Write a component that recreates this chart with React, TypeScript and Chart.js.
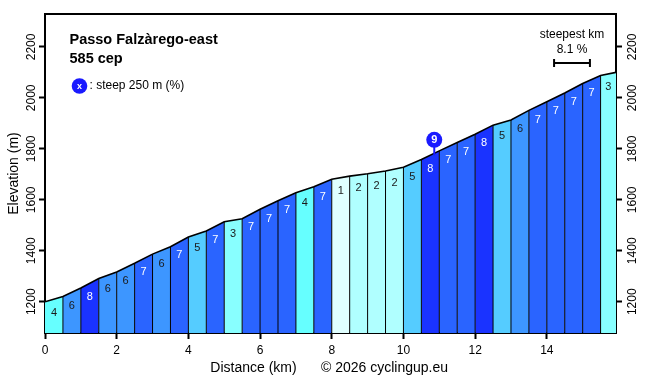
import React, { useEffect, useRef } from "react";
import { Chart, registerables } from "chart.js";
Chart.register(...registerables);

const FONT = '"Liberation Sans", Arial, Helvetica, sans-serif';

// Distance (km) of each segment boundary
const distances = [
  0, 0.5, 1, 1.5, 2, 2.5, 3, 3.5, 4, 4.5, 5, 5.5, 6, 6.5, 7, 7.5, 8, 8.5, 9, 9.5,
  10, 10.5, 11, 11.5, 12, 12.5, 13, 13.5, 14, 14.5, 15, 15.5, 15.93,
];
// Elevation (m) at each boundary
const elevations = [
  1200, 1221, 1254, 1291, 1317, 1351, 1387, 1416, 1454, 1478, 1514, 1526, 1563,
  1596, 1628, 1651, 1681, 1693, 1702, 1713, 1728, 1758, 1792, 1825, 1857, 1893,
  1913, 1951, 1985, 2019, 2056, 2088, 2100,
];
// Gradient label (%) shown in each segment
const gradeLabels = [
  4, 6, 8, 6, 6, 7, 6, 7, 5, 7, 3, 7, 7, 7, 4, 7, 1, 2, 2, 2, 5, 8, 7, 7, 8, 5, 6,
  7, 7, 7, 7, 3,
];
const gradeColors: Record<number, string> = {
  0: "#f0ffff",
  1: "#e0ffff",
  2: "#b0ffff",
  3: "#88ffff",
  4: "#66ffff",
  5: "#55ccff",
  6: "#3d96ff",
  7: "#2a64ff",
  8: "#1a33ff",
  9: "#0a0aff",
};
const xTickLabels = [0, 2, 4, 6, 8, 10, 12, 14];
const yTickLabels = [1200, 1400, 1600, 1800, 2000, 2200];
const xRange = [0, 15.93];
const yRange = [1077.5, 2329];

const titleLines = ["Passo Falzàrego-east", "585 cep"];
const legendText = ": steep 250 m (%)";
const steepMarkerKm = 10.86;
const steepMarkerValue = 9;
const steepestKmTitle = "steepest km";
const steepestKmValue = "8.1 %";
const xTitle = "Distance (km)";
const yTitle = "Elevation (m)";
const copyright = "© 2026 cyclingup.eu";

const MARKER_BLUE = "#1a1aff";

function elevAt(km: number) {
  for (let i = 0; i < distances.length - 1; i++) {
    if (km >= distances[i] && km <= distances[i + 1]) {
      const t = (km - distances[i]) / (distances[i + 1] - distances[i]);
      return elevations[i] + t * (elevations[i + 1] - elevations[i]);
    }
  }
  return elevations[elevations.length - 1];
}

const overlay = {
  id: "overlay",
  afterDatasetsDraw(chart: any) {
    const { ctx, scales } = chart;
    const xs = scales.x;
    const ys = scales.y;
    ctx.save();
    ctx.font = `11px ${FONT}`;
    ctx.textAlign = "center";
    ctx.textBaseline = "middle";
    for (let i = 0; i < gradeLabels.length; i++) {
      const xm = (distances[i] + distances[i + 1]) / 2;
      const em = (elevations[i] + elevations[i + 1]) / 2;
      const px = xs.getPixelForValue(xm);
      const py = ys.getPixelForValue(em) + 13.5;
      ctx.fillStyle = gradeLabels[i] >= 7 ? "#ffffff" : "#1a1a1a";
      ctx.fillText(String(gradeLabels[i]), px, py);
    }
    // steep marker
    const mx = xs.getPixelForValue(steepMarkerKm);
    const my = ys.getPixelForValue(elevAt(steepMarkerKm));
    const cy = my - 13.5;
    ctx.strokeStyle = MARKER_BLUE;
    ctx.lineWidth = 2;
    ctx.beginPath();
    ctx.moveTo(mx, my + 2);
    ctx.lineTo(mx, cy);
    ctx.stroke();
    ctx.fillStyle = MARKER_BLUE;
    ctx.beginPath();
    ctx.arc(mx, cy, 8, 0, Math.PI * 2);
    ctx.fill();
    ctx.fillStyle = "#ffffff";
    ctx.font = `bold 11px ${FONT}`;
    ctx.fillText(String(steepMarkerValue), mx, cy + 0.5);
    ctx.restore();
  },
  afterDraw(chart: any) {
    const { ctx, scales, chartArea } = chart;
    const ys = scales.y;
    const xs = scales.x;
    ctx.save();
    ctx.fillStyle = "#000";
    ctx.textAlign = "center";
    ctx.textBaseline = "middle";
    ctx.font = `12px ${FONT}`;
    // y tick labels on both sides, rotated
    for (const t of ys.ticks) {
      const py = ys.getPixelForValue(t.value);
      for (const x of [chartArea.left - 13, chartArea.right + 16.5]) {
        ctx.save();
        ctx.translate(x, py);
        ctx.rotate(-Math.PI / 2);
        ctx.fillText(String(t.value), 0, 0);
        ctx.restore();
      }
    }
    // axis titles
    ctx.font = `14px ${FONT}`;
    ctx.save();
    ctx.translate(14, (chartArea.top + chartArea.bottom) / 2);
    ctx.rotate(-Math.PI / 2);
    ctx.fillText(yTitle, 0, 0);
    ctx.restore();
    ctx.textAlign = "center";
    ctx.fillText(xTitle, 253.5, 368);
    ctx.textAlign = "left";
    ctx.fillText(copyright, 321, 368);
    // title
    ctx.font = `bold 14.5px ${FONT}`;
    ctx.textBaseline = "alphabetic";
    ctx.fillText(titleLines[0], chartArea.left + 24.5, 43.5);
    ctx.fillText(titleLines[1], chartArea.left + 24.5, 63);
    // legend
    ctx.fillStyle = MARKER_BLUE;
    ctx.beginPath();
    ctx.arc(chartArea.left + 34.5, 86, 7.8, 0, Math.PI * 2);
    ctx.fill();
    ctx.fillStyle = "#fff";
    ctx.font = `bold 9px ${FONT}`;
    ctx.textAlign = "center";
    ctx.textBaseline = "middle";
    ctx.fillText("x", chartArea.left + 34.5, 86.5);
    ctx.fillStyle = "#000";
    ctx.font = `12px ${FONT}`;
    ctx.textAlign = "left";
    ctx.fillText(legendText, chartArea.left + 44.5, 86);
    // steepest km scale bar (1 km wide)
    const cx = chartArea.right - 44;
    const w = xs.getPixelForValue(1) - xs.getPixelForValue(0);
    ctx.textAlign = "center";
    ctx.fillText(steepestKmTitle, cx, 35);
    ctx.fillText(steepestKmValue, cx, 49.5);
    ctx.strokeStyle = "#000";
    ctx.lineWidth = 2;
    ctx.beginPath();
    ctx.moveTo(cx - w / 2, 63);
    ctx.lineTo(cx + w / 2, 63);
    ctx.moveTo(cx - w / 2, 59);
    ctx.lineTo(cx - w / 2, 67);
    ctx.moveTo(cx + w / 2, 59);
    ctx.lineTo(cx + w / 2, 67);
    ctx.stroke();
    ctx.restore();
  },
};

function buildDatasets() {
  const ds: any[] = [];
  // profile outline
  ds.push({
    type: "line",
    data: distances.map((d, i) => ({ x: d, y: elevations[i] })),
    borderColor: "#000",
    borderWidth: 1.6,
    pointRadius: 0,
    fill: false,
    order: 0,
  });
  // separators
  for (let i = 1; i < distances.length - 1; i++) {
    ds.push({
      type: "line",
      data: [
        { x: distances[i], y: yRange[0] },
        { x: distances[i], y: elevations[i] },
      ],
      borderColor: "#000",
      borderWidth: 1,
      pointRadius: 0,
      fill: false,
      order: 1,
    });
  }
  // segment fills
  for (let i = 0; i < gradeLabels.length; i++) {
    ds.push({
      type: "line",
      data: [
        { x: distances[i], y: elevations[i] },
        { x: distances[i + 1], y: elevations[i + 1] },
      ],
      borderWidth: 0,
      borderColor: "rgba(0,0,0,0)",
      backgroundColor: gradeColors[gradeLabels[i]],
      pointRadius: 0,
      fill: "start",
      order: 2,
    });
  }
  return ds;
}

export default function App() {
  const ref = useRef<HTMLCanvasElement>(null);
  useEffect(() => {
    document.body.style.margin = "0";
    Chart.defaults.font.family = FONT;
    const grid = {
      display: true,
      drawOnChartArea: false,
      drawTicks: true,
      tickLength: 6,
      tickWidth: 2,
      tickColor: "#000",
    };
    const border = { display: true, color: "#000", width: 2 };
    const chart = new Chart(ref.current!, {
      type: "line",
      data: { datasets: buildDatasets() },
      plugins: [overlay],
      options: {
        responsive: false,
        animation: false,
        devicePixelRatio: 1,
        layout: { padding: 0 },
        plugins: { legend: { display: false }, tooltip: { enabled: false } },
        scales: {
          x: {
            type: "linear",
            position: "bottom",
            min: xRange[0],
            max: xRange[1],
            grid,
            border,
            afterBuildTicks: (s: any) => {
              s.ticks = xTickLabels.map((v) => ({ value: v }));
            },
            ticks: {
              color: "#000",
              font: { size: 12, family: FONT },
              padding: 4,
              maxRotation: 0,
              autoSkip: false,
            },
            afterFit: (s: any) => {
              s.height = 47;
            },
          },
          xTop: {
            type: "linear",
            position: "top",
            min: xRange[0],
            max: xRange[1],
            grid: { display: true, drawOnChartArea: false, drawTicks: false },
            border,
            ticks: { display: false },
            afterFit: (s: any) => {
              s.height = 14;
            },
          },
          y: {
            type: "linear",
            position: "left",
            min: yRange[0],
            max: yRange[1],
            grid,
            border,
            afterBuildTicks: (s: any) => {
              s.ticks = yTickLabels.map((v) => ({ value: v }));
            },
            ticks: { display: false },
            afterFit: (s: any) => {
              s.width = 45;
            },
          },
          y2: {
            type: "linear",
            position: "right",
            min: yRange[0],
            max: yRange[1],
            grid,
            border,
            afterBuildTicks: (s: any) => {
              s.ticks = yTickLabels.map((v) => ({ value: v }));
            },
            ticks: { display: false },
            afterFit: (s: any) => {
              s.width = 40;
            },
          },
        },
      } as any,
    } as any);
    return () => chart.destroy();
  }, []);
  return (
    <div style={{ width: 656, height: 380 }}>
      <canvas ref={ref} width={656} height={380} style={{ display: "block" }} />
    </div>
  );
}
